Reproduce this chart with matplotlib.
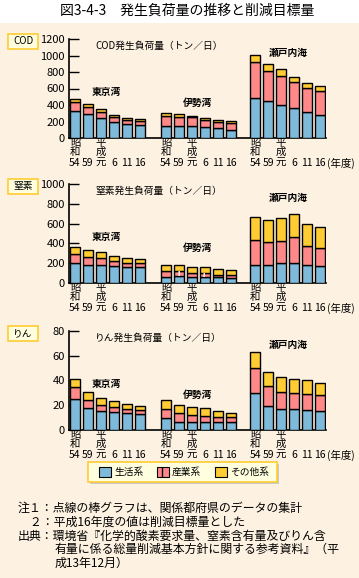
import matplotlib
matplotlib.use("Agg")
import matplotlib.pyplot as plt
from matplotlib.patches import Rectangle
import numpy as np

plt.rcParams['font.family'] = ['Noto Sans CJK JP', 'DejaVu Sans']

# --- data ---
regions = ['東京湾', '伊勢湾', '瀬戸内海']
years = ['54', '59', '元', '6', '11', '16']

# COD (トン/日): 生活系, 産業系, その他系  (per region, 6 years)
cod_life = [[331, 291, 242, 194, 170, 158],
            [145, 145, 145, 133, 121, 101],
            [485, 448, 400, 364, 315, 279]]
cod_ind = [[109, 85, 73, 61, 48, 48],
           [126, 110, 105, 89, 77, 85],
           [436, 364, 351, 315, 291, 291]]
cod_oth = [[33, 40, 36, 28, 24, 28],
           [36, 40, 21, 20, 24, 24],
           [89, 89, 89, 64, 65, 60]]

# 窒素
n_life = [[202, 182, 182, 172, 162, 162],
          [61, 71, 57, 57, 57, 51],
          [182, 182, 202, 202, 182, 172]]
n_ind = [[91, 77, 71, 50, 40, 40],
         [60, 50, 47, 44, 27, 33],
         [252, 232, 222, 263, 192, 182]]
n_oth = [[74, 74, 60, 54, 54, 44],
         [64, 64, 58, 61, 57, 47],
         [233, 226, 236, 232, 222, 212]]

# りん
p_life = [[25.1, 17.8, 15.4, 14.6, 13.8, 13.0],
          [9.7, 6.5, 6.5, 6.5, 6.5, 6.5],
          [30.0, 19.5, 17.0, 17.0, 16.2, 15.4]]
p_ind = [[9.8, 6.5, 4.9, 4.0, 3.2, 3.2],
         [7.3, 7.3, 5.7, 4.9, 4.0, 4.0],
         [20.3, 16.2, 13.8, 13.0, 13.0, 13.0]]
p_oth = [[6.7, 6.5, 5.9, 4.9, 4.1, 3.3],
         [7.3, 6.5, 6.4, 6.4, 4.9, 3.3],
         [12.9, 11.3, 12.2, 11.4, 11.3, 9.7]]

# which 産業系 segments are prefecture-level data (striped)
cod_striped = [(0, 0), (0, 2), (1, 0), (1, 2), (1, 4), (2, 4)]
n_striped = [(0, 0), (0, 2), (1, 1), (1, 3), (2, 4)]
p_striped = [(0, 0), (0, 2), (1, 0), (1, 2), (1, 4), (2, 4)]

panels = [
    ('COD', 'COD発生負荷量（トン／日）', cod_life, cod_ind, cod_oth, cod_striped, 1200, 200, 39),
    ('窒素', '窒素発生負荷量（トン／日）', n_life, n_ind, n_oth, n_striped, 1000, 200, 184),
    ('りん', 'りん発生負荷量（トン／日）', p_life, p_ind, p_oth, p_striped, 80, 20, 331),
]

legend_labels = ['生活系', '産業系', 'その他系']
c_life, c_ind, c_oth = '#80BADA', '#FF8888', '#FFCC33'
cream = '#FDF1E1'

W, H = 359, 578
fig = plt.figure(figsize=(W / 100, H / 100), dpi=100)
fig.patch.set_facecolor('white')


def fx(px):
    return px / W


def fy(py):
    return 1 - py / H


# cream background below the title strip
fig.patches.append(Rectangle((0, 0), 1, fy(23), transform=fig.transFigure,
                             facecolor=cream, edgecolor='none', zorder=-10))

fig.text(fx(187), fy(11), '図3-4-3　発生負荷量の推移と削減目標量',
         ha='center', va='center', fontsize=10)

group_starts = [0, 7, 13.85]
bw = 0.74

for tag, title, life, ind, oth, striped, ymax, ystep, top_px in panels:
    ax = fig.add_axes([fx(69), fy(top_px + 99), fx(326) - fx(69), 99 / H])
    ax.set_facecolor('none')
    tr = ax.get_xaxis_transform()
    for g in range(3):
        x = group_starts[g] + np.arange(6)
        l = np.array(life[g]); i = np.array(ind[g]); o = np.array(oth[g])
        ax.bar(x, l, bw, color=c_life, edgecolor='black', linewidth=1, zorder=3)
        ax.bar(x, i, bw, bottom=l, color=c_ind, edgecolor='black', linewidth=1, zorder=3)
        ax.bar(x, o, bw, bottom=l + i, color=c_oth, edgecolor='black', linewidth=1, zorder=3)
        for (sg, sk) in striped:
            if sg == g:
                ax.bar(x[sk], i[sk] * 0.9, bw * 0.5, bottom=l[sk] + i[sk] * 0.05,
                       color='none', edgecolor='white', hatch='||', linewidth=0, zorder=4)
        # year labels
        for k, yl in enumerate(years):
            ax.text(x[k], -25 / 99, yl, transform=tr,
                    ha='center', va='center', fontsize=7.5)
        ax.text(x[0], -5 / 99, '昭', transform=tr, ha='center', va='center', fontsize=7.5)
        ax.text(x[0], -14 / 99, '和', transform=tr, ha='center', va='center', fontsize=7.5)
        ax.text(x[2], -5 / 99, '平', transform=tr, ha='center', va='center', fontsize=7.5)
        ax.text(x[2], -14 / 99, '成', transform=tr, ha='center', va='center', fontsize=7.5)
    ax.text(group_starts[2] + 5.5, -25 / 99, '(年度)', transform=tr,
            ha='left', va='center', fontsize=7.5)

    ax.text(2.4, 0.465, regions[0], transform=tr,
            ha='center', va='center', fontsize=7, fontweight='bold')
    ax.text(9.4, 0.35, regions[1], transform=tr,
            ha='center', va='center', fontsize=7, fontweight='bold')
    ax.text(16.4, 0.86, regions[2], transform=tr,
            ha='center', va='center', fontsize=7, fontweight='bold')
    ax.text(1.55, 0.93, title, transform=tr, ha='left', va='center', fontsize=7)

    ax.set_xlim(-0.46, 19.3)
    ax.set_ylim(0, ymax)
    ax.set_yticks(np.arange(0, ymax + 1, ystep))
    ax.set_xticks([])
    ax.tick_params(axis='y', direction='in', length=7, width=1, labelsize=8, pad=3)
    for s in ['top', 'right']:
        ax.spines[s].set_visible(False)
    ax.spines['left'].set_linewidth(1.2)
    ax.spines['bottom'].set_linewidth(1.2)

    # tag box
    fig.patches.append(Rectangle((fx(8), fy(top_px + 10)), fx(38) - fx(8), 15 / H,
                                 transform=fig.transFigure, facecolor='#FFFFE0',
                                 edgecolor='#FFCC33', linewidth=1.2))
    fig.text(fx(23), fy(top_px + 2.5), tag, ha='center', va='center', fontsize=7)

# legend box
fig.patches.append(Rectangle((fx(90), fy(484)), fx(279) - fx(90), 20 / H,
                             transform=fig.transFigure, facecolor='#C8C8C8',
                             edgecolor='none'))
fig.patches.append(Rectangle((fx(88), fy(482)), fx(277) - fx(88), 20 / H,
                             transform=fig.transFigure, facecolor='#FFFFE0',
                             edgecolor='#FFCC33', linewidth=1.2))
for (sx, col, lab) in [(99, c_life, legend_labels[0]), (157, c_ind, legend_labels[1]),
                       (215, c_oth, legend_labels[2])]:
    fig.patches.append(Rectangle((fx(sx), fy(477)), 12 / W, 10 / H,
                                 transform=fig.transFigure, facecolor=col,
                                 edgecolor='black', linewidth=0.8,
                                 hatch='||' if col == c_ind else None))
    fig.text(fx(sx + 15), fy(472), lab, ha='left', va='center', fontsize=7)

notes = [
    (18, 508, '注１：点線の棒グラフは、関係都府県のデータの集計'),
    (18, 522, '　２：平成16年度の値は削減目標量とした'),
    (18, 536, '出典：環境省『化学的酸素要求量、窒素含有量及びりん含'),
    (55, 549, '有量に係る総量削減基本方針に関する参考資料』（平'),
    (55, 563, '成13年12月）'),
]
for nx, ny, t in notes:
    fig.text(fx(nx), fy(ny), t, ha='left', va='center', fontsize=8.6)

fig.savefig('out.png', dpi=100, facecolor=fig.get_facecolor())
